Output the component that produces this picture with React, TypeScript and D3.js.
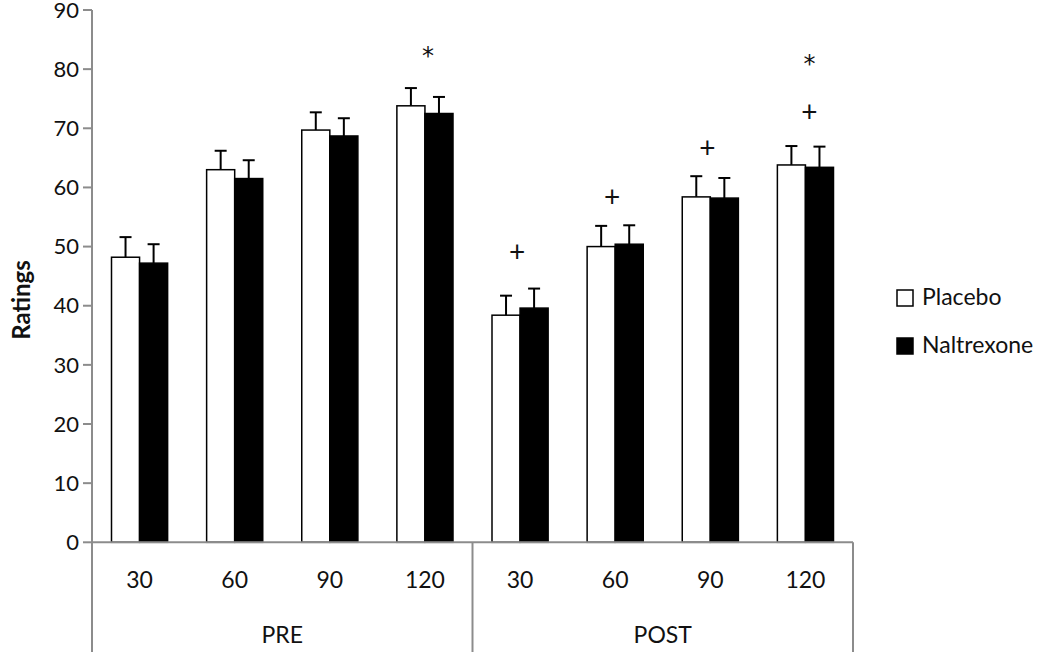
import React from "react";
import * as d3 from "d3";

const phases = ["PRE", "POST"];
const times = ["30", "60", "90", "120"];
const seriesNames = ["Placebo", "Naltrexone"];
const placeboMeans = [48.2, 63.0, 69.7, 73.8, 38.4, 50.0, 58.4, 63.8];
const placeboUpper = [51.6, 66.2, 72.7, 76.8, 41.7, 53.5, 61.9, 67.0];
const naltrexoneMeans = [47.2, 61.5, 68.7, 72.5, 39.6, 50.4, 58.2, 63.4];
const naltrexoneUpper = [50.4, 64.6, 71.7, 75.3, 42.9, 53.6, 61.6, 66.9];
const yTicks = [0, 10, 20, 30, 40, 50, 60, 70, 80, 90];
// annotations: category index, symbol, value (data units, glyph centre)
const annotations = [
  { cat: 3, sym: "*", val: 83.2 },
  { cat: 4, sym: "+", val: 49.1 },
  { cat: 5, sym: "+", val: 58.4 },
  { cat: 6, sym: "+", val: 66.7 },
  { cat: 7, sym: "+", val: 72.7 },
  { cat: 7, sym: "*", val: 81.9 },
];

const W = 1050;
const H = 654;
const FONT = "Lato, 'Open Sans', sans-serif";

export default function App() {
  const cats = phases.flatMap((p) => times.map((t) => `${p}-${t}`));
  const left = 92;
  const right = 853;
  const x0 = d3.scaleBand<string>().domain(cats).range([left, right]).paddingInner(0.41).paddingOuter(0.205);
  const x1 = d3.scaleBand<string>().domain(seriesNames).range([0, x0.bandwidth()]);
  const y = d3.scaleLinear().domain([0, 90]).range([542.3, 10]);
  const axisColor = "#8c8c8c";
  const bottom = 652;
  const seriesData = [
    { name: "Placebo", means: placeboMeans, upper: placeboUpper, fill: "#ffffff" },
    { name: "Naltrexone", means: naltrexoneMeans, upper: naltrexoneUpper, fill: "#000000" },
  ];
  const phaseW = (right - left) / phases.length;

  return (
    <svg width={W} height={H} style={{ position: "absolute", left: 0, top: 0, background: "#fff" }} fontFamily={FONT}>
      <rect x={0} y={0} width={W} height={H} fill="#fff" />
      {/* y axis */}
      <line x1={left} x2={left} y1={y(90)} y2={bottom} stroke={axisColor} strokeWidth={2} />
      {yTicks.map((t) => (
        <g key={t}>
          <line x1={left - 9} x2={left} y1={y(t)} y2={y(t)} stroke={axisColor} strokeWidth={2} />
          <text x={left - 13} y={y(t)} dy="0.35em" textAnchor="end" fontSize={22} fill="#111">
            {t}
          </text>
        </g>
      ))}
      <text
        transform={`translate(30,300) rotate(-90)`}
        textAnchor="middle"
        fontSize={24}
        fontWeight="bold"
        fill="#111"
      >
        Ratings
      </text>
      {/* bars */}
      {seriesData.map((s) =>
        cats.map((c, i) => {
          const bx = (x0(c) as number) + (x1(s.name) as number);
          const bw = x1.bandwidth();
          const cx = bx + bw / 2;
          return (
            <g key={s.name + c}>
              <line x1={cx} x2={cx} y1={y(s.means[i])} y2={y(s.upper[i])} stroke="#000" strokeWidth={2} />
              <line x1={cx - 6} x2={cx + 6} y1={y(s.upper[i])} y2={y(s.upper[i])} stroke="#000" strokeWidth={2} />
              <rect
                x={bx}
                y={y(s.means[i])}
                width={bw}
                height={y(0) - y(s.means[i])}
                fill={s.fill}
                stroke="#000"
                strokeWidth={1.5}
              />
            </g>
          );
        })
      )}
      {/* x axis */}
      <line x1={left} x2={right} y1={y(0)} y2={y(0)} stroke={axisColor} strokeWidth={2} />
      {d3.range(phases.length + 1).map((k) => (
        <line key={k} x1={left + k * phaseW} x2={left + k * phaseW} y1={y(0)} y2={bottom} stroke={axisColor} strokeWidth={2} />
      ))}
      {cats.map((c, i) => (
        <text key={c} x={(x0(c) as number) + x0.bandwidth() / 2} y={588} textAnchor="middle" fontSize={23} fill="#111">
          {times[i % times.length]}
        </text>
      ))}
      {phases.map((p, k) => (
        <text key={p} x={left + (k + 0.5) * phaseW} y={643} textAnchor="middle" fontSize={23} fill="#111">
          {p}
        </text>
      ))}
      {/* annotations */}
      {annotations.map((a, i) => {
        const star = a.sym === "*";
        return (
          <text
            key={i}
            x={(x0(cats[a.cat]) as number) + x0.bandwidth() / 2 + (a.cat === 3 ? 3 : a.cat === 7 ? 4 : -3)}
            y={y(a.val) + (star ? 14 : 0)}
            dy={star ? 0 : "0.35em"}
            textAnchor="middle"
            fontSize={star ? 24 : 28}
            fontFamily={star ? "'DejaVu Sans', sans-serif" : FONT}
            fill="#111"
          >
            {a.sym}
          </text>
        );
      })}
      {/* legend */}
      {seriesData.map((s, i) => (
        <g key={s.name} transform={`translate(897,${290 + i * 48})`}>
          <rect x={0} y={0} width={16} height={16} fill={s.fill} stroke="#000" strokeWidth={1.5} />
          <text x={25} y={15} fontSize={23} fill="#111">
            {s.name}
          </text>
        </g>
      ))}
    </svg>
  );
}
